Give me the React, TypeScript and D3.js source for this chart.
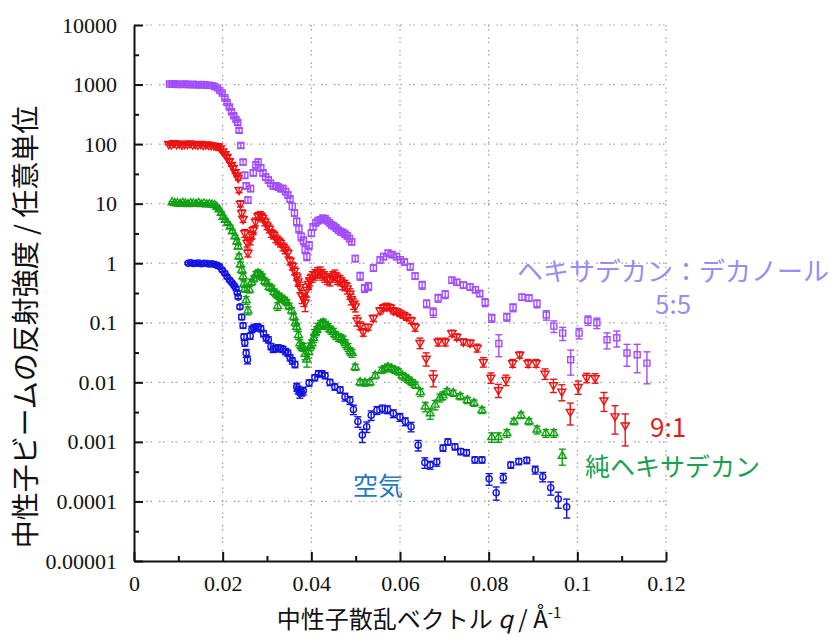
import React, { useEffect, useRef } from 'react'
import * as d3 from 'd3'

const W = 830
const H = 637

const xTickVals = [0, 0.02, 0.04, 0.06, 0.08, 0.1, 0.12]
const xTickLabels = ['0', '0.02', '0.04', '0.06', '0.08', '0.1', '0.12']
const xMinorVals = [0.01, 0.03, 0.05, 0.07, 0.09, 0.11]
const yTickVals = [1e-5, 1e-4, 1e-3, 1e-2, 1e-1, 1, 10, 100, 1000, 10000]
const yTickLabels = ['0.00001', '0.0001', '0.001', '0.01', '0.1', '1', '10', '100', '1000', '10000']

// [q, intensity, relative error]
const air = [
  [0.0122, 1.0, 0.04], [0.0128, 1.02, 0.04], [0.0134, 0.99, 0.04], [0.014, 1.0, 0.04], [0.0146, 1.01, 0.04],
  [0.0152, 0.98, 0.04], [0.0158, 1.0, 0.04], [0.0164, 0.99, 0.04], [0.017, 0.97, 0.04], [0.0176, 0.98, 0.04],
  [0.0182, 0.95, 0.04], [0.0188, 0.92, 0.04], [0.0193, 0.88, 0.05], [0.0199, 0.77, 0.05], [0.0205, 0.68, 0.05],
  [0.021, 0.59, 0.05], [0.0216, 0.52, 0.05], [0.0221, 0.47, 0.05], [0.0226, 0.42, 0.05], [0.023, 0.38, 0.06],
  [0.0233, 0.32, 0.06], [0.0235, 0.27, 0.06], [0.0239, 0.185, 0.08], [0.0243, 0.125, 0.1], [0.0246, 0.09, 0.1],
  [0.0248, 0.058, 0.12], [0.025, 0.046, 0.12], [0.0253, 0.031, 0.15], [0.0256, 0.024, 0.15], [0.0262, 0.06, 0.12],
  [0.0266, 0.078, 0.12], [0.027, 0.082, 0.12], [0.0275, 0.085, 0.12], [0.028, 0.085, 0.12], [0.0286, 0.08, 0.12],
  [0.0292, 0.066, 0.12], [0.0298, 0.056, 0.12], [0.0303, 0.052, 0.12], [0.0309, 0.04, 0.12], [0.0314, 0.036, 0.12],
  [0.032, 0.037, 0.12], [0.0325, 0.038, 0.12], [0.0331, 0.037, 0.12], [0.0336, 0.036, 0.12], [0.0342, 0.033, 0.12],
  [0.0347, 0.031, 0.12], [0.0352, 0.026, 0.12], [0.0357, 0.023, 0.12], [0.0363, 0.02, 0.12], [0.0367, 0.0084, 0.15],
  [0.037, 0.0075, 0.15], [0.0374, 0.0066, 0.18], [0.0378, 0.0069, 0.15], [0.0382, 0.0072, 0.15], [0.0395, 0.0098, 0.12],
  [0.0408, 0.012, 0.12], [0.0416, 0.014, 0.12], [0.0424, 0.014, 0.12], [0.0431, 0.013, 0.12], [0.0442, 0.01, 0.12],
  [0.0453, 0.0084, 0.12], [0.0465, 0.0075, 0.12], [0.0476, 0.0057, 0.15], [0.0487, 0.005, 0.15], [0.0495, 0.0035, 0.18],
  [0.0505, 0.0022, 0.2], [0.0515, 0.0013, 0.25], [0.0525, 0.0018, 0.2], [0.0535, 0.0028, 0.18], [0.0548, 0.0034, 0.15],
  [0.056, 0.0036, 0.15], [0.0572, 0.0035, 0.15], [0.0585, 0.003, 0.15], [0.06, 0.0026, 0.15], [0.0612, 0.0022, 0.15],
  [0.0625, 0.0018, 0.18], [0.0641, 0.00088, 0.2], [0.0656, 0.00045, 0.2], [0.0668, 0.00041, 0.15], [0.0683, 0.00046, 0.15],
  [0.0697, 0.00079, 0.12], [0.0708, 0.001, 0.12], [0.0724, 0.00083, 0.12], [0.0737, 0.00069, 0.12], [0.075, 0.00066, 0.12],
  [0.0769, 0.0005, 0.12], [0.0785, 0.0005, 0.12], [0.0801, 0.00024, 0.22], [0.0817, 0.00014, 0.25], [0.0833, 0.00025, 0.18],
  [0.085, 0.00041, 0.12], [0.0868, 0.00047, 0.12], [0.0886, 0.00049, 0.12], [0.0905, 0.00034, 0.15], [0.0922, 0.00026, 0.18],
  [0.094, 0.00017, 0.25], [0.0957, 0.00011, 0.3], [0.0976, 0.000081, 0.35],
]

const pureHexadecane = [
  [0.0086, 10.5, 0.04], [0.0092, 10.2, 0.04], [0.0098, 10.1, 0.04], [0.0104, 9.9, 0.04], [0.011, 10.3, 0.04],
  [0.0116, 10.0, 0.04], [0.0122, 9.8, 0.04], [0.0128, 10.1, 0.04], [0.0134, 10.0, 0.04], [0.014, 9.9, 0.04],
  [0.0146, 10.2, 0.04], [0.0152, 9.8, 0.04], [0.0158, 10.0, 0.04], [0.0164, 9.7, 0.04], [0.017, 9.8, 0.04],
  [0.0176, 9.6, 0.04], [0.0182, 9.4, 0.04], [0.0187, 8.8, 0.05], [0.0192, 8.0, 0.05], [0.0197, 7.0, 0.05],
  [0.0201, 6.0, 0.05], [0.0206, 5.3, 0.05], [0.0211, 4.7, 0.05], [0.0217, 4.1, 0.06], [0.0222, 3.4, 0.06],
  [0.0228, 2.8, 0.06], [0.0232, 2.3, 0.08], [0.0235, 1.9, 0.08], [0.0237, 1.3, 0.1], [0.024, 0.95, 0.1],
  [0.0243, 0.77, 0.12], [0.0246, 0.6, 0.12], [0.0248, 0.45, 0.12], [0.025, 0.37, 0.12], [0.0253, 0.24, 0.15],
  [0.0257, 0.16, 0.15], [0.026, 0.36, 0.12], [0.0265, 0.48, 0.12], [0.027, 0.55, 0.12], [0.0275, 0.65, 0.12],
  [0.028, 0.68, 0.12], [0.0285, 0.64, 0.12], [0.029, 0.59, 0.12], [0.0295, 0.5, 0.12], [0.03, 0.47, 0.12],
  [0.0305, 0.4, 0.12], [0.0311, 0.38, 0.12], [0.0316, 0.33, 0.12], [0.0322, 0.3, 0.12], [0.0324, 0.19, 0.15],
  [0.0327, 0.28, 0.12], [0.0333, 0.26, 0.12], [0.034, 0.24, 0.12], [0.0345, 0.22, 0.12], [0.035, 0.19, 0.12],
  [0.0356, 0.16, 0.12], [0.036, 0.126, 0.12], [0.0364, 0.1, 0.12], [0.0367, 0.085, 0.15], [0.0371, 0.062, 0.15],
  [0.0374, 0.045, 0.15], [0.0378, 0.04, 0.15], [0.0382, 0.039, 0.15], [0.0386, 0.03, 0.2], [0.039, 0.024, 0.25],
  [0.0394, 0.032, 0.2], [0.0398, 0.04, 0.15], [0.0401, 0.045, 0.15], [0.0405, 0.055, 0.15], [0.0408, 0.067, 0.15],
  [0.0412, 0.075, 0.15], [0.0415, 0.085, 0.15], [0.0421, 0.095, 0.15], [0.0427, 0.1, 0.15], [0.0432, 0.092, 0.15],
  [0.0438, 0.085, 0.15], [0.0444, 0.076, 0.15], [0.045, 0.07, 0.15], [0.0455, 0.062, 0.15], [0.0461, 0.057, 0.15],
  [0.0467, 0.055, 0.15], [0.0472, 0.052, 0.15], [0.0477, 0.045, 0.15], [0.0483, 0.039, 0.15], [0.0488, 0.033, 0.15],
  [0.0492, 0.031, 0.15], [0.0499, 0.018, 0.12], [0.051, 0.01, 0.12], [0.0521, 0.0098, 0.12], [0.0532, 0.01, 0.12],
  [0.0544, 0.013, 0.12], [0.0559, 0.016, 0.12], [0.0566, 0.017, 0.12], [0.0573, 0.018, 0.12], [0.0581, 0.017, 0.12],
  [0.0589, 0.016, 0.12], [0.0597, 0.015, 0.12], [0.0605, 0.013, 0.12], [0.0613, 0.012, 0.12], [0.062, 0.011, 0.12],
  [0.0627, 0.01, 0.12], [0.0635, 0.009, 0.12], [0.0646, 0.0068, 0.15], [0.0657, 0.0039, 0.18], [0.0668, 0.003, 0.2],
  [0.0679, 0.0042, 0.18], [0.069, 0.0055, 0.15], [0.0697, 0.006, 0.15], [0.0706, 0.007, 0.12], [0.072, 0.0066, 0.12],
  [0.0736, 0.0058, 0.12], [0.0752, 0.005, 0.12], [0.0767, 0.0045, 0.12], [0.0785, 0.0034, 0.12], [0.0807, 0.0012, 0.18],
  [0.0822, 0.0012, 0.18], [0.0841, 0.0014, 0.15], [0.0857, 0.0022, 0.12], [0.0873, 0.0028, 0.12], [0.0891, 0.0022, 0.12],
  [0.0909, 0.0016, 0.15], [0.0929, 0.0014, 0.15], [0.0947, 0.0014, 0.15], [0.0966, 0.00058, 0.3],
]

const ratio91 = [
  [0.0078, 101, 0.04], [0.0084, 99, 0.04], [0.009, 104, 0.04], [0.0096, 100, 0.04], [0.0102, 102, 0.04],
  [0.0108, 98, 0.04], [0.0114, 101, 0.04], [0.012, 100, 0.04], [0.0126, 103, 0.04], [0.0132, 99, 0.04],
  [0.0138, 100, 0.04], [0.0144, 98, 0.04], [0.015, 101, 0.04], [0.0156, 97, 0.04], [0.0162, 99, 0.04],
  [0.0168, 98, 0.04], [0.0174, 96, 0.04], [0.018, 95, 0.04], [0.0185, 93, 0.05], [0.019, 92, 0.05],
  [0.0195, 85, 0.05], [0.02, 76, 0.05], [0.0205, 68, 0.05], [0.021, 61, 0.05], [0.0215, 52, 0.05],
  [0.022, 45, 0.06], [0.0224, 40, 0.06], [0.0228, 34, 0.06], [0.0232, 30, 0.06], [0.0235, 27, 0.08],
  [0.0237, 17, 0.1], [0.024, 10, 0.12], [0.0243, 7, 0.12], [0.0246, 5.5, 0.12], [0.025, 3.2, 0.15],
  [0.0255, 2.2, 0.15], [0.0257, 1.5, 0.15], [0.0262, 2.4, 0.15], [0.0266, 3.0, 0.15], [0.0269, 3.6, 0.15],
  [0.0274, 5.0, 0.15], [0.028, 6.2, 0.15], [0.0285, 6.4, 0.15], [0.029, 5.8, 0.15], [0.0295, 5.0, 0.15],
  [0.03, 4.3, 0.15], [0.0305, 3.8, 0.15], [0.031, 3.2, 0.15], [0.0315, 3.0, 0.15], [0.032, 2.6, 0.15],
  [0.0325, 2.4, 0.15], [0.033, 2.2, 0.15], [0.0336, 1.9, 0.15], [0.0341, 1.7, 0.15], [0.0347, 1.5, 0.15],
  [0.0352, 1.1, 0.15], [0.0357, 0.9, 0.15], [0.0362, 0.75, 0.15], [0.0367, 0.6, 0.15], [0.037, 0.5, 0.18],
  [0.0374, 0.4, 0.2], [0.0379, 0.28, 0.25], [0.0383, 0.25, 0.25], [0.0386, 0.22, 0.3], [0.039, 0.36, 0.25],
  [0.0394, 0.45, 0.2], [0.0397, 0.52, 0.2], [0.0402, 0.6, 0.2], [0.0408, 0.65, 0.2], [0.0414, 0.7, 0.2],
  [0.042, 0.72, 0.2], [0.0425, 0.65, 0.2], [0.043, 0.6, 0.2], [0.0436, 0.55, 0.2], [0.0442, 0.52, 0.2],
  [0.0448, 0.6, 0.2], [0.0453, 0.64, 0.2], [0.0459, 0.55, 0.2], [0.0465, 0.52, 0.2], [0.047, 0.45, 0.2],
  [0.0476, 0.43, 0.2], [0.0481, 0.38, 0.2], [0.0487, 0.31, 0.2], [0.049, 0.25, 0.2], [0.0495, 0.21, 0.2],
  [0.0499, 0.19, 0.2], [0.0503, 0.11, 0.2], [0.051, 0.09, 0.15], [0.0517, 0.07, 0.15], [0.0528, 0.085, 0.12],
  [0.054, 0.12, 0.12], [0.0555, 0.16, 0.12], [0.0563, 0.18, 0.12], [0.057, 0.19, 0.12], [0.0578, 0.18, 0.12],
  [0.0585, 0.16, 0.12], [0.0593, 0.155, 0.12], [0.06, 0.145, 0.12], [0.0608, 0.135, 0.12], [0.0615, 0.125, 0.12],
  [0.0625, 0.11, 0.12], [0.0634, 0.085, 0.15], [0.0645, 0.046, 0.2], [0.0659, 0.025, 0.25], [0.0675, 0.012, 0.3],
  [0.0686, 0.048, 0.15], [0.0702, 0.048, 0.15], [0.0717, 0.067, 0.12], [0.0728, 0.058, 0.12], [0.0743, 0.048, 0.12],
  [0.0758, 0.046, 0.12], [0.0774, 0.038, 0.15], [0.0788, 0.022, 0.18], [0.0805, 0.012, 0.2], [0.0822, 0.0074, 0.25],
  [0.0839, 0.011, 0.2], [0.0854, 0.021, 0.15], [0.087, 0.029, 0.12], [0.0889, 0.021, 0.15], [0.0907, 0.021, 0.15],
  [0.0927, 0.014, 0.2], [0.0946, 0.009, 0.25], [0.0965, 0.007, 0.3], [0.0984, 0.0032, 0.4], [0.1002, 0.0084, 0.25],
  [0.1021, 0.012, 0.18], [0.104, 0.0118, 0.18], [0.106, 0.005, 0.35], [0.1085, 0.0027, 0.5], [0.1108, 0.0019, 0.55],
]

const ratio55 = [
  [0.008, 1020, 0.04], [0.0086, 1010, 0.04], [0.0092, 1030, 0.04], [0.0098, 1000, 0.04], [0.0104, 1015, 0.04],
  [0.011, 1005, 0.04], [0.0116, 1020, 0.04], [0.0122, 1000, 0.04], [0.0128, 990, 0.04], [0.0134, 1010, 0.04],
  [0.014, 995, 0.04], [0.0146, 985, 0.04], [0.0152, 1000, 0.04], [0.0158, 990, 0.04], [0.0164, 975, 0.04],
  [0.017, 980, 0.04], [0.0176, 960, 0.04], [0.0182, 930, 0.04], [0.0188, 880, 0.05], [0.0193, 800, 0.05],
  [0.0199, 720, 0.05], [0.0205, 600, 0.05], [0.021, 500, 0.05], [0.0215, 420, 0.05], [0.022, 350, 0.06],
  [0.0225, 300, 0.06], [0.023, 260, 0.06], [0.0234, 230, 0.08], [0.0237, 170, 0.08], [0.0241, 95, 0.1],
  [0.0246, 50, 0.1], [0.025, 30, 0.12], [0.0253, 20, 0.12], [0.0257, 11.5, 0.12], [0.0263, 18, 0.12],
  [0.0269, 33, 0.12], [0.0275, 45, 0.12], [0.028, 50, 0.12], [0.0286, 40, 0.12], [0.0291, 33, 0.12],
  [0.0297, 28, 0.12], [0.0303, 25, 0.12], [0.0308, 22, 0.12], [0.0314, 20, 0.12], [0.032, 20, 0.12],
  [0.0325, 19, 0.12], [0.0331, 18, 0.12], [0.0336, 18, 0.12], [0.0342, 16, 0.12], [0.0347, 14, 0.12],
  [0.0352, 12, 0.12], [0.0357, 9, 0.12], [0.0362, 7, 0.12], [0.0367, 5, 0.15], [0.0372, 3.8, 0.15],
  [0.0377, 2.8, 0.15], [0.0382, 2.4, 0.15], [0.0386, 1.7, 0.15], [0.039, 1.3, 0.15], [0.0395, 2.0, 0.15],
  [0.04, 3.2, 0.12], [0.0404, 4.1, 0.12], [0.041, 4.8, 0.12], [0.0415, 5.2, 0.12], [0.042, 5.4, 0.12],
  [0.0426, 5.7, 0.12], [0.0431, 5.6, 0.12], [0.0436, 5.2, 0.12], [0.0441, 4.8, 0.12], [0.0446, 4.4, 0.12],
  [0.0451, 4.2, 0.12], [0.0456, 3.9, 0.12], [0.0461, 3.6, 0.12], [0.0466, 3.4, 0.12], [0.0471, 3.3, 0.12],
  [0.0476, 3.1, 0.12], [0.0481, 2.9, 0.12], [0.0486, 2.6, 0.12], [0.0491, 2.3, 0.12], [0.0499, 1.2, 0.12],
  [0.051, 0.61, 0.15], [0.052, 0.38, 0.15], [0.0529, 0.41, 0.15], [0.054, 0.83, 0.12], [0.0555, 1.14, 0.12],
  [0.0563, 1.3, 0.12], [0.0573, 1.48, 0.12], [0.0582, 1.4, 0.12], [0.0592, 1.3, 0.12], [0.0601, 1.15, 0.12],
  [0.061, 1.05, 0.12], [0.0623, 0.87, 0.12], [0.0634, 0.61, 0.12], [0.065, 0.43, 0.15], [0.066, 0.21, 0.15],
  [0.0675, 0.15, 0.18], [0.0686, 0.26, 0.15], [0.0702, 0.3, 0.15], [0.0717, 0.52, 0.12], [0.0728, 0.48, 0.12],
  [0.0743, 0.43, 0.12], [0.0758, 0.4, 0.12], [0.077, 0.36, 0.12], [0.078, 0.31, 0.12], [0.0792, 0.22, 0.15],
  [0.0807, 0.12, 0.15], [0.0823, 0.045, 0.4], [0.0841, 0.125, 0.15], [0.0855, 0.18, 0.15], [0.0875, 0.27, 0.12],
  [0.0891, 0.26, 0.12], [0.0909, 0.21, 0.15], [0.093, 0.135, 0.18], [0.0947, 0.088, 0.22], [0.0967, 0.067, 0.25],
  [0.0985, 0.024, 0.45], [0.1004, 0.067, 0.2], [0.1024, 0.11, 0.18], [0.1044, 0.1, 0.2], [0.1067, 0.052, 0.3],
  [0.1089, 0.056, 0.3], [0.1112, 0.031, 0.4], [0.1135, 0.029, 0.5], [0.1157, 0.021, 0.55],
]

const x = d3.scaleLinear().domain([0, 0.12]).range([134, 666])
const y = d3.scaleLog().domain([1e-5, 1e4]).range([561, 25])

const series = [
  { data: air, color: '#1414e0', symbol: d3.symbolCircle, size: 30, rot: 0 },
  { data: pureHexadecane, color: '#12a012', symbol: d3.symbolTriangle, size: 28, rot: 0 },
  { data: ratio91, color: '#ee1111', symbol: d3.symbolTriangle, size: 28, rot: 180 },
  { data: ratio55, color: '#a24dff', symbol: d3.symbolSquare, size: 36, rot: 0 },
]

function Points({ data, color, symbol, size, rot }) {
  const d = d3.symbol().type(symbol).size(size)()
  return (
    <g stroke={color} fill="none" strokeWidth={1.4}>
      {data.map(([q, v, e], i) => {
        const cx = x(q)
        const cy = y(v)
        const top = y(v * (1 + e))
        const bot = y(v * (1 - e))
        return (
          <g key={i}>
            <line x1={cx} x2={cx} y1={top} y2={bot} />
            <line x1={cx - 3.5} x2={cx + 3.5} y1={top} y2={top} />
            <line x1={cx - 3.5} x2={cx + 3.5} y1={bot} y2={bot} />
            <path d={d} transform={`translate(${cx},${cy}) rotate(${rot})`} />
          </g>
        )
      })}
    </g>
  )
}

export default function App() {
  const xAxisRef = useRef(null)
  const yAxisRef = useRef(null)

  useEffect(() => {
    const gx = d3.select(xAxisRef.current)
    const gy = d3.select(yAxisRef.current)
    gx.selectAll('*').remove()
    gy.selectAll('*').remove()

    // minor ticks halfway through each decade, no labels
    gy.append('g').call(
      d3.axisLeft(y).tickValues(yTickVals.slice(0, 9).map(v => Math.sqrt(10) * v))
        .tickFormat(() => '').tickSizeInner(-5).tickSizeOuter(0)
    ).select('.domain').remove()
    gy.append('g').call(
      d3.axisLeft(y).tickValues(yTickVals).tickFormat((d, i) => yTickLabels[i])
        .tickSizeInner(-9).tickSizeOuter(0).tickPadding(17)
    )

    gx.append('g').call(
      d3.axisBottom(x).tickValues(xMinorVals).tickFormat(() => '').tickSizeInner(-5).tickSizeOuter(0)
    ).select('.domain').remove()
    gx.append('g').call(
      d3.axisBottom(x).tickValues(xTickVals).tickFormat((d, i) => xTickLabels[i])
        .tickSizeInner(-9).tickSizeOuter(0).tickPadding(14)
    )

    for (const g of [gx, gy]) {
      g.selectAll('.domain').attr('stroke', '#111').attr('stroke-width', 2)
      g.selectAll('.tick line').attr('stroke', '#111').attr('stroke-width', 2)
      g.selectAll('.tick text')
        .attr('font-family', '"Liberation Serif", "Times New Roman", serif')
        .attr('font-size', 22)
        .attr('fill', '#111')
    }
  }, [])

  const jp = '"Noto Sans CJK JP", "Noto Sans", sans-serif'

  return (
    <svg width={W} height={H} style={{ position: 'absolute', left: 0, top: 0, background: '#fff' }}>
      <g stroke="#9a9a9a" strokeWidth={1.2} strokeDasharray="1.5,2.5,1.5,7">
        {yTickVals.slice(1).map(v => (
          <line key={v} x1={x(0)} x2={x(0.12)} y1={y(v)} y2={y(v)} />
        ))}
        {xTickVals.slice(1).map(v => (
          <line key={v} x1={x(v)} x2={x(v)} y1={y(1e4)} y2={y(1e-5)} />
        ))}
      </g>

      {series.map((s, i) => <Points key={i} {...s} />)}

      <g ref={yAxisRef} transform={`translate(${x(0)},0)`} />
      <g ref={xAxisRef} transform={`translate(0,${y(1e-5)})`} />

      <text transform="translate(36,327) rotate(-90)" textAnchor="middle" fontFamily={jp} fontSize={28} fill="#111">
        中性子ビームの反射強度 / 任意単位
      </text>
      <text x={419} y={628} textAnchor="middle" fontFamily={jp} fontSize={24} fill="#111">
        中性子散乱ベクトル <tspan fontStyle="italic">q</tspan> / Å<tspan fontSize={15} dy={-10}>-1</tspan>
      </text>

      <text x={517} y={281} fontFamily={jp} fontSize={26} fill="#9a8cf0">ヘキサデカン：デカノール</text>
      <text x={655} y={314} fontFamily={jp} fontSize={26} fill="#9a8cf0">5:5</text>
      <text x={650} y={437} fontFamily={jp} fontSize={26} fill="#e41a1a">9:1</text>
      <text x={585} y={476} fontFamily={jp} fontSize={25} fill="#17a04f">純ヘキサデカン</text>
      <text x={353} y={495} fontFamily={jp} fontSize={25} fill="#2479c4">空気</text>
    </svg>
  )
}
